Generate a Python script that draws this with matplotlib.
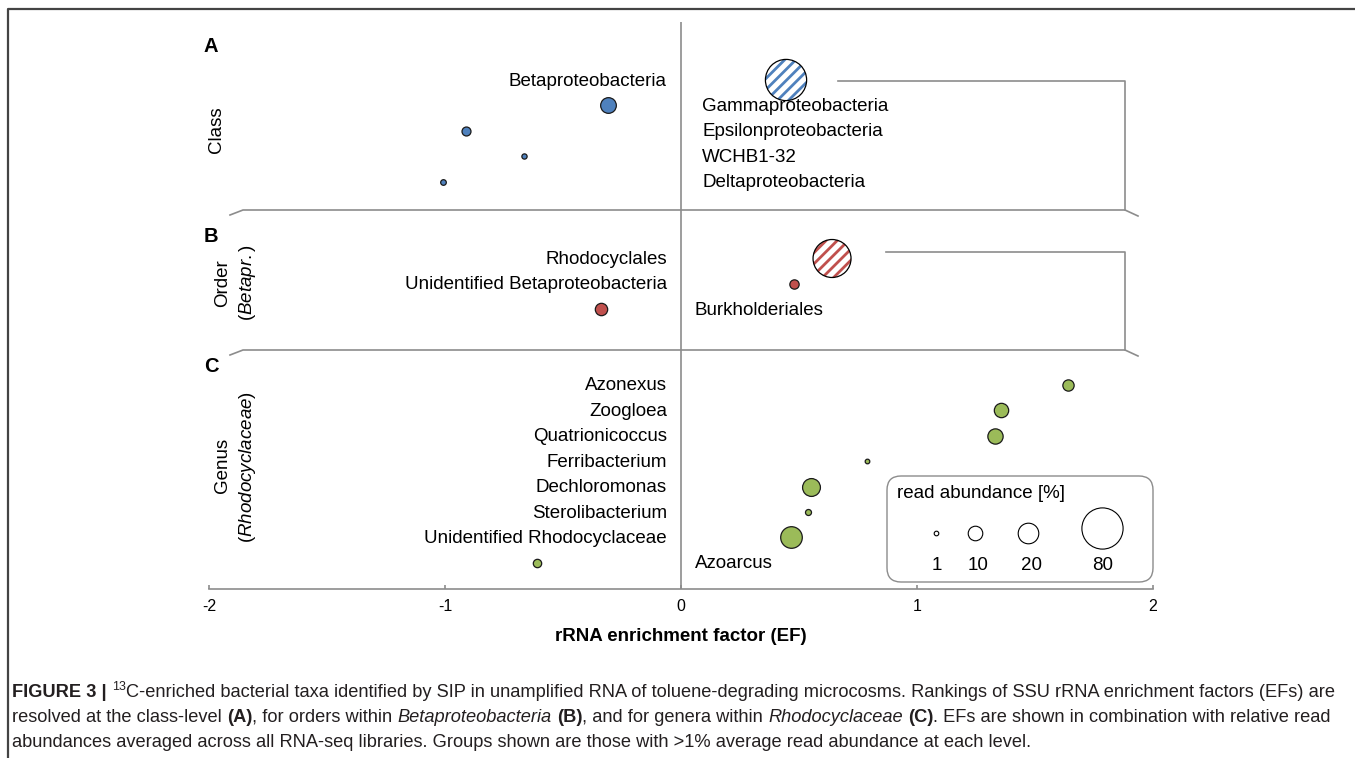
import matplotlib
matplotlib.use('Agg')
import matplotlib.pyplot as plt
from matplotlib import font_manager
from matplotlib.patches import FancyBboxPatch

# ---------------- data ----------------
class_names = ['Gammaproteobacteria', 'Betaproteobacteria', 'Epsilonproteobacteria',
               'WCHB1-32', 'Deltaproteobacteria']
class_ef = [0.445, -0.31, -0.91, -0.665, -1.01]
class_abund = [80, 11.6, 3.8, 1.3, 1.5]
class_hatched = [True, False, False, False, False]
class_label_rows = ['Betaproteobacteria', 'Gammaproteobacteria', 'Epsilonproteobacteria',
                    'WCHB1-32', 'Deltaproteobacteria']
class_label_side = ['left', 'right', 'right', 'right', 'right']

order_names = ['Rhodocyclales', 'Burkholderiales', 'Unidentified Betaproteobacteria']
order_ef = [0.64, 0.48, -0.34]
order_abund = [68, 4.1, 7.2]
order_hatched = [True, False, False]
order_label_rows = ['Rhodocyclales', 'Unidentified Betaproteobacteria', 'Burkholderiales']
order_label_side = ['left', 'left', 'right']

genus_names = ['Azonexus', 'Zoogloea', 'Quatrionicoccus', 'Ferribacterium', 'Dechloromonas',
               'Sterolibacterium', 'Unidentified Rhodocyclaceae', 'Azoarcus']
genus_ef = [1.64, 1.356, 1.33, 0.79, 0.55, 0.537, 0.466, -0.61]
genus_abund = [6, 9.7, 11, 1, 15, 1.7, 22, 3.3]
genus_hatched = [False] * 8
genus_label_rows = genus_names
genus_label_side = ['left'] * 7 + ['right']

legend_values = [1, 10, 20, 80]
xticks = [-2, -1, 0, 1, 2]

# ---------------- style ----------------
plt.rcParams['font.family'] = ['Liberation Sans', 'DejaVu Sans']
plt.rcParams['mathtext.fontset'] = 'custom'
plt.rcParams['mathtext.rm'] = 'Liberation Sans'
plt.rcParams['mathtext.it'] = 'Liberation Sans:italic'
plt.rcParams['mathtext.bf'] = 'Liberation Sans:bold'
plt.rcParams['hatch.linewidth'] = 2.0

BLUE = '#4F81BD'
RED = '#C0504D'
GREEN = '#9BBB59'
GRID = '#8c8c8c'
FS = 13.5
SIZE_K = 11.0   # marker area (pt^2) per % read abundance

W, H = 1355, 758
fig = plt.figure(figsize=(W / 100, H / 100), dpi=100)

# decoration axes in pixel coordinates
deco = fig.add_axes([0, 0, 1, 1])
deco.set_xlim(0, W)
deco.set_ylim(H, 0)
deco.axis('off')

# main data axes: x = EF, y = pixel rows
AX_L, AX_R, AX_T, AX_B = 209, 1153, 22, 589
ax = fig.add_axes([AX_L / W, (H - AX_B) / H, (AX_R - AX_L) / W, (AX_B - AX_T) / H])
ax.patch.set_visible(False)
ax.set_xlim(-2, 2)
ax.set_ylim(AX_B, AX_T)
for sp in ['top', 'left', 'right']:
    ax.spines[sp].set_visible(False)
ax.spines['bottom'].set_color(GRID)
ax.spines['bottom'].set_linewidth(1.2)
ax.set_yticks([])
ax.set_xticks(xticks)
ax.set_xticklabels([str(t) for t in xticks])
ax.tick_params(axis='x', direction='in', length=3, width=1.2, color=GRID,
               labelsize=11.5, pad=7)
ax.set_xlabel('rRNA enrichment factor (EF)', fontsize=FS, fontweight='bold', labelpad=10)
ax.axvline(0, color=GRID, lw=1.2, zorder=1)

ROW = 25.4


def panel(ef, ab, hatched, color, y0, label_rows, label_side, right_x):
    ys = [y0 + i * ROW for i in range(len(ef))]
    for x, a, h, y in zip(ef, ab, hatched, ys):
        if h:
            ax.scatter([x], [y], s=SIZE_K * a, facecolor='white', edgecolor=color,
                       hatch='///', linewidths=0, zorder=3)
            ax.scatter([x], [y], s=SIZE_K * a, facecolor='none', edgecolor='black',
                       linewidths=0.9, zorder=4)
        else:
            ax.scatter([x], [y], s=SIZE_K * a, facecolor=color, edgecolor='#1a1a1a',
                       linewidths=0.9, zorder=3)
    for txt, side, y in zip(label_rows, label_side, ys):
        if side == 'left':
            deco.text(667, y + 1, txt, ha='right', va='center', fontsize=FS)
        else:
            deco.text(right_x, y + 1, txt, ha='left', va='center', fontsize=FS)


panel(class_ef, class_abund, class_hatched, BLUE, 80, class_label_rows, class_label_side, 702)
panel(order_ef, order_abund, order_hatched, RED, 258.5, order_label_rows, order_label_side, 695)
panel(genus_ef, genus_abund, genus_hatched, GREEN, 385, genus_label_rows, genus_label_side, 695)

# separators and brackets
for yy in (210, 350):
    deco.plot([230, 243, 1125, 1138], [yy + 5, yy, yy, yy + 6], color=GRID, lw=1.2)
deco.plot([838, 1125, 1125], [81, 81, 210], color=GRID, lw=1.2)
deco.plot([886, 1125, 1125], [252, 252, 350], color=GRID, lw=1.2)

# figure frame
deco.plot([8, 8, W], [H, 9, 9], color='#444444', lw=1.6)

# panel letters and row titles
for letter, y in (('A', 47), ('B', 236), ('C', 366)):
    deco.text(204, y, letter, fontsize=14.5, fontweight='bold', ha='left', va='center')
deco.text(217, 130, 'Class', rotation=90, ha='center', va='center', fontsize=FS)
deco.text(223, 283, 'Order', rotation=90, ha='center', va='center', fontsize=FS)
deco.text(247, 283, r'($\it{Betapr.}$)', rotation=90, ha='center', va='center', fontsize=FS)
deco.text(223, 465, 'Genus', rotation=90, ha='center', va='center', fontsize=FS)
deco.text(247, 467, r'($\it{Rhodocyclaceae}$)', rotation=90, ha='center', va='center', fontsize=FS)

# size legend
deco.add_patch(FancyBboxPatch((887, 476), 266, 106,
                              boxstyle='round,pad=0,rounding_size=14',
                              fc='white', ec=GRID, lw=1.0, zorder=2))
deco.text(897, 493, 'read abundance [%]', ha='left', va='center', fontsize=FS, zorder=3)
leg_x = [936, 975, 1028, 1102]
leg_y = [533, 533, 533, 528]
lab_x = [937, 978, 1031, 1103]
for v, x, y, lx in zip(legend_values, leg_x, leg_y, lab_x):
    deco.scatter([x], [y], s=SIZE_K * v, facecolor='white', edgecolor='black',
                 linewidths=0.8, zorder=3)
    deco.text(lx, 565, str(v), ha='center', va='center', fontsize=FS, zorder=3)

# ---------------- caption ----------------
names = {f.name for f in font_manager.fontManager.ttflist}
CAP_FAMILY = 'Liberation Sans Narrow' if 'Liberation Sans Narrow' in names else 'Liberation Sans'
renderer = fig.canvas.get_renderer()


def twidth(s, **kw):
    t1 = deco.text(0, 0, '|' + s + '|', **kw)
    t2 = deco.text(0, 0, '||', **kw)
    w = t1.get_window_extent(renderer).width - t2.get_window_extent(renderer).width
    t1.remove()
    t2.remove()
    return w


def style(kind, fs):
    kw = dict(family=CAP_FAMILY, fontsize=fs, color='#231f20')
    if kind == 'b':
        kw['fontweight'] = 'bold'
    elif kind == 'i':
        kw['fontstyle'] = 'italic'
    elif kind == 'sup':
        kw['fontsize'] = fs * 0.68
    return kw


line1 = [('FIGURE 3 |', 'b'), (' ', 'n'), ('13', 'sup'),
         ('C-enriched bacterial taxa identified by SIP in unamplified RNA of toluene-degrading '
          'microcosms. Rankings of SSU rRNA enrichment factors (EFs) are', 'n')]
line2 = [('resolved at the class-level ', 'n'), ('(A)', 'b'), (', for orders within ', 'n'),
         ('Betaproteobacteria', 'i'), (' ', 'n'), ('(B)', 'b'),
         (', and for genera within ', 'n'), ('Rhodocyclaceae', 'i'), (' ', 'n'), ('(C)', 'b'),
         ('. EFs are shown in combination with relative read', 'n')]
line3 = [('abundances averaged across all RNA-seq libraries. Groups shown are those with '
          '>1% average read abundance at each level.', 'n')]

base_fs = 10.0
w1 = sum(twidth(s, **style(k, base_fs)) for s, k in line1)
cap_fs = base_fs * (1338 - 12) / w1


def draw_line(pieces, x, y, fs):
    for s, k in pieces:
        kw = style(k, fs)
        dy = -fs * 0.55 if k == 'sup' else 0
        deco.text(x, y + dy, s, ha='left', va='baseline', **kw)
        x += twidth(s, **kw)


draw_line(line1, 12, 697, cap_fs)
draw_line(line2, 12, 722, cap_fs)
draw_line(line3, 12, 747, cap_fs)

fig.savefig('out.png', dpi=100)
